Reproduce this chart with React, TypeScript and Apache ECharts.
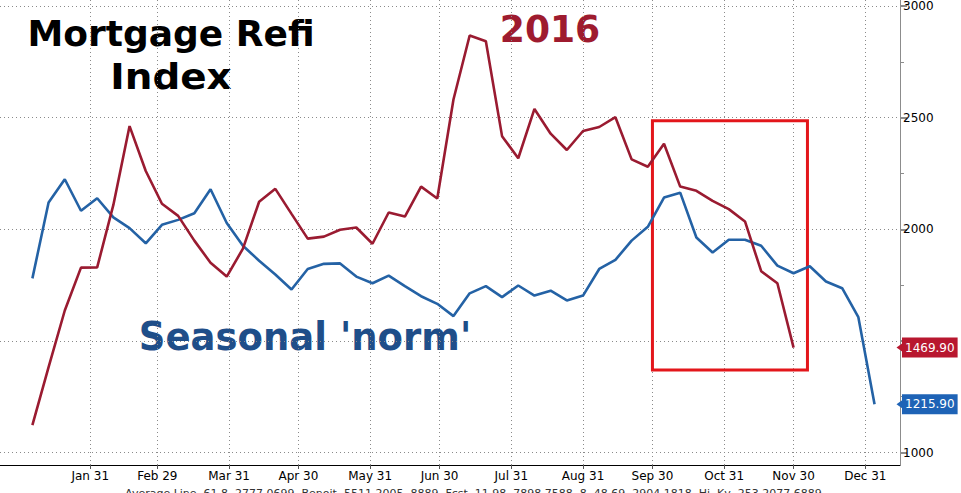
import React, { useEffect, useRef } from "react";
import * as echarts from "echarts";

// Weekly observation dates (Wednesdays)
const weeks: string[] = [
  "2016-01-06", "2016-01-13", "2016-01-20", "2016-01-27",
  "2016-02-03", "2016-02-10", "2016-02-17", "2016-02-24",
  "2016-03-02", "2016-03-09", "2016-03-16", "2016-03-23", "2016-03-30",
  "2016-04-06", "2016-04-13", "2016-04-20", "2016-04-27",
  "2016-05-04", "2016-05-11", "2016-05-18", "2016-05-25",
  "2016-06-01", "2016-06-08", "2016-06-15", "2016-06-22", "2016-06-29",
  "2016-07-06", "2016-07-13", "2016-07-20", "2016-07-27",
  "2016-08-03", "2016-08-10", "2016-08-17", "2016-08-24", "2016-08-31",
  "2016-09-07", "2016-09-14", "2016-09-21", "2016-09-28",
  "2016-10-05", "2016-10-12", "2016-10-19", "2016-10-26",
  "2016-11-02", "2016-11-09", "2016-11-16", "2016-11-23", "2016-11-30",
  "2016-12-07", "2016-12-14", "2016-12-21", "2016-12-28",
  "2017-01-04",
];

// Mortgage refi index, 2016
const refi2016: number[] = [
  1123, 1382, 1636, 1828, 1829, 2109, 2462, 2261, 2114, 2060, 1949, 1850, 1788,
  1913, 2123, 2181, 2069, 1958, 1967, 1998, 2008, 1935, 2075, 2057, 2191, 2138,
  2581, 2868, 2842, 2417, 2318, 2539, 2428, 2355, 2440, 2458, 2502, 2313, 2280,
  2383, 2191, 2172, 2127, 2090, 2035, 1812, 1758, 1469.9,
];

// Seasonal 'norm'
const seasonalNorm: number[] = [
  1780, 2120, 2224, 2083, 2139, 2053, 2005, 1937, 2020, 2042, 2072, 2179, 2028,
  1926, 1859, 1797, 1730, 1822, 1845, 1847, 1788, 1758, 1792, 1745, 1700, 1666,
  1611, 1713, 1745, 1696, 1748, 1703, 1725, 1681, 1703, 1822, 1863, 1949, 2011,
  2142, 2164, 1963, 1896, 1953, 1953, 1926, 1837, 1803, 1834, 1766, 1736, 1606,
  1215.9,
];

// Axis range (daily categories) and highlight box
const axisStart = "2015-12-23";
const axisDays = 390;
const yTicks = { min: 1000, max: 3000, interval: 500 };
const hiddenTickLabels = [1500]; // covered by the last-value tag
const boxFrom = { date: "2016-09-30", value: 2486 };
const boxTo = { date: "2016-12-06", value: 1369 };
const monthNames = ["Jan", "Feb", "Mar", "Apr", "May", "Jun", "Jul", "Aug", "Sep", "Oct", "Nov", "Dec"];

const RED = "#9A1B31";
const BLUE = "#2462A5";
const TAG_RED = "#B8172F";
const TAG_BLUE = "#1E63B6";
const FONT = "DejaVu Sans";

function buildDays(): string[] {
  const [y, m, d] = axisStart.split("-").map(Number);
  const t0 = Date.UTC(y, m - 1, d);
  const out: string[] = [];
  for (let i = 0; i < axisDays; i++) {
    out.push(new Date(t0 + i * 86400000).toISOString().slice(0, 10));
  }
  return out;
}

export default function App() {
  const ref = useRef<HTMLDivElement>(null);

  useEffect(() => {
    if (!ref.current) return;
    const chart = echarts.init(ref.current, undefined, { renderer: "svg" });
    const days = buildDays();
    const isMonthEnd = (idx: number) =>
      days[idx].startsWith("2016") && !!days[idx + 1] && days[idx + 1].endsWith("-01");
    const intervalFn = (idx: number) => isMonthEnd(idx);

    const tag = (value: number, color: string) => ({
      silent: true,
      symbol: ["none", "triangle"],
      symbolSize: [10, 7],
      symbolRotate: 90,
      lineStyle: { width: 0, color },
      itemStyle: { color },
      data: [{ yAxis: value }],
      label: {
        show: true,
        position: "end",
        distance: 2,
        formatter: () => value.toFixed(2),
        color: "#ffffff",
        backgroundColor: color,
        padding: [4, 3, 3, 3],
        lineHeight: 13,
        fontSize: 12,
        fontFamily: FONT,
      },
    });

    const textStyle = (text: string, font: string, fill: string) => ({
      text,
      font,
      fill,
      textAlign: "center",
      textVerticalAlign: "middle",
      align: "center",
      verticalAlign: "middle",
    });

    chart.setOption({
      animation: false,
      backgroundColor: "#ffffff",
      grid: [
        { left: 0, right: 61, top: 5, bottom: 40.5 },
        { left: 0, right: 61, top: 0, bottom: 28 },
      ],
      xAxis: [
        {
          type: "category",
          gridIndex: 0,
          data: days,
          boundaryGap: false,
          show: false,
        },
        {
          type: "category",
          gridIndex: 1,
          data: days,
          boundaryGap: false,
          axisLine: { show: true, lineStyle: { color: "#000000", width: 1 } },
          axisTick: { show: true, interval: intervalFn, length: 4, lineStyle: { color: "#555" } },
          axisLabel: {
            interval: intervalFn,
            formatter: (v: string) => `${monthNames[Number(v.slice(5, 7)) - 1]} ${Number(v.slice(8, 10))}`,
            color: "#000000",
            fontSize: 12,
            fontFamily: FONT,
            margin: 5,
          },
          splitLine: {
            show: true,
            interval: intervalFn,
            lineStyle: { color: "#8a8a8a", width: 1, type: [1, 3] },
          },
        },
      ],
      yAxis: [
        {
          type: "value",
          gridIndex: 0,
          position: "right",
          min: yTicks.min,
          max: yTicks.max,
          interval: yTicks.interval,
          axisLine: { show: false },
          axisTick: { show: true, length: 7, lineStyle: { color: "#8c8c8c", width: 2 } },
          minorTick: { show: true, splitNumber: 2, length: 4, lineStyle: { color: "#8c8c8c" } },
          axisLabel: {
            color: "#000000",
            fontSize: 12,
            fontFamily: FONT,
            margin: 3,
            formatter: (v: number) => (hiddenTickLabels.includes(v) ? "" : String(v)),
          },
          splitLine: { show: true, lineStyle: { color: "#8a8a8a", width: 1, type: [1, 3] } },
        },
        {
          type: "value",
          gridIndex: 1,
          position: "right",
          min: 0,
          max: 1,
          axisLine: { show: true, lineStyle: { color: "#8c8c8c", width: 1 } },
          axisTick: { show: false },
          axisLabel: { show: false },
          splitLine: { show: false },
        },
      ],
      series: [
        {
          name: "Seasonal 'norm'",
          type: "line",
          xAxisIndex: 0,
          yAxisIndex: 0,
          data: weeks.map((w, i) => [w, seasonalNorm[i]]),
          showSymbol: false,
          symbol: "none",
          lineStyle: { color: BLUE, width: 2.6 },
          markLine: tag(seasonalNorm[seasonalNorm.length - 1], TAG_BLUE),
          z: 3,
        },
        {
          name: "2016",
          type: "line",
          xAxisIndex: 0,
          yAxisIndex: 0,
          data: weeks.slice(0, refi2016.length).map((w, i) => [w, refi2016[i]]),
          showSymbol: false,
          symbol: "none",
          lineStyle: { color: RED, width: 2.6 },
          markLine: tag(refi2016[refi2016.length - 1], TAG_RED),
          markArea: {
            silent: true,
            itemStyle: { color: "rgba(0,0,0,0)", borderColor: "#E3161B", borderWidth: 3 },
            data: [[
              { xAxis: boxFrom.date, yAxis: boxFrom.value },
              { xAxis: boxTo.date, yAxis: boxTo.value },
            ]],
          },
          z: 4,
        },
      ],
      graphic: [
        {
          type: "text",
          x: 171,
          y: 33,
          scaleX: 1.0,
          style: textStyle("Mortgage Refi", `bold 36px "${FONT}"`, "#000000"),
        },
        {
          type: "text",
          x: 171,
          y: 77,
          scaleX: 1.08,
          style: textStyle("Index", `bold 36px "${FONT}"`, "#000000"),
        },
        {
          type: "text",
          x: 550,
          y: 29,
          scaleX: 0.95,
          style: textStyle("2016", `bold 38px "${FONT}"`, "#9E1B2F"),
        },
        {
          type: "text",
          x: 305,
          y: 337,
          scaleX: 0.95,
          style: textStyle("Seasonal 'norm'", `bold 39px "${FONT}"`, "#1F4E89"),
        },
        {
          type: "text",
          x: 125,
          y: 488,
          style: {
            text: "Average Line  61.8  2777.0699  Benoit  5511.2005  8889  Fcst  11.98  7898.7588  8  48.69  2904.1818  Hi  Kv  253.2077.6889",
            font: `11px "${FONT}"`,
            fill: "#333333",
            textAlign: "left",
            textVerticalAlign: "top",
            align: "left",
            verticalAlign: "top",
          },
        },
      ],
    });

    return () => chart.dispose();
  }, []);

  return (
    <div
      ref={ref}
      style={{ position: "absolute", left: 0, top: 0, width: 961, height: 493, background: "#fff" }}
    />
  );
}
